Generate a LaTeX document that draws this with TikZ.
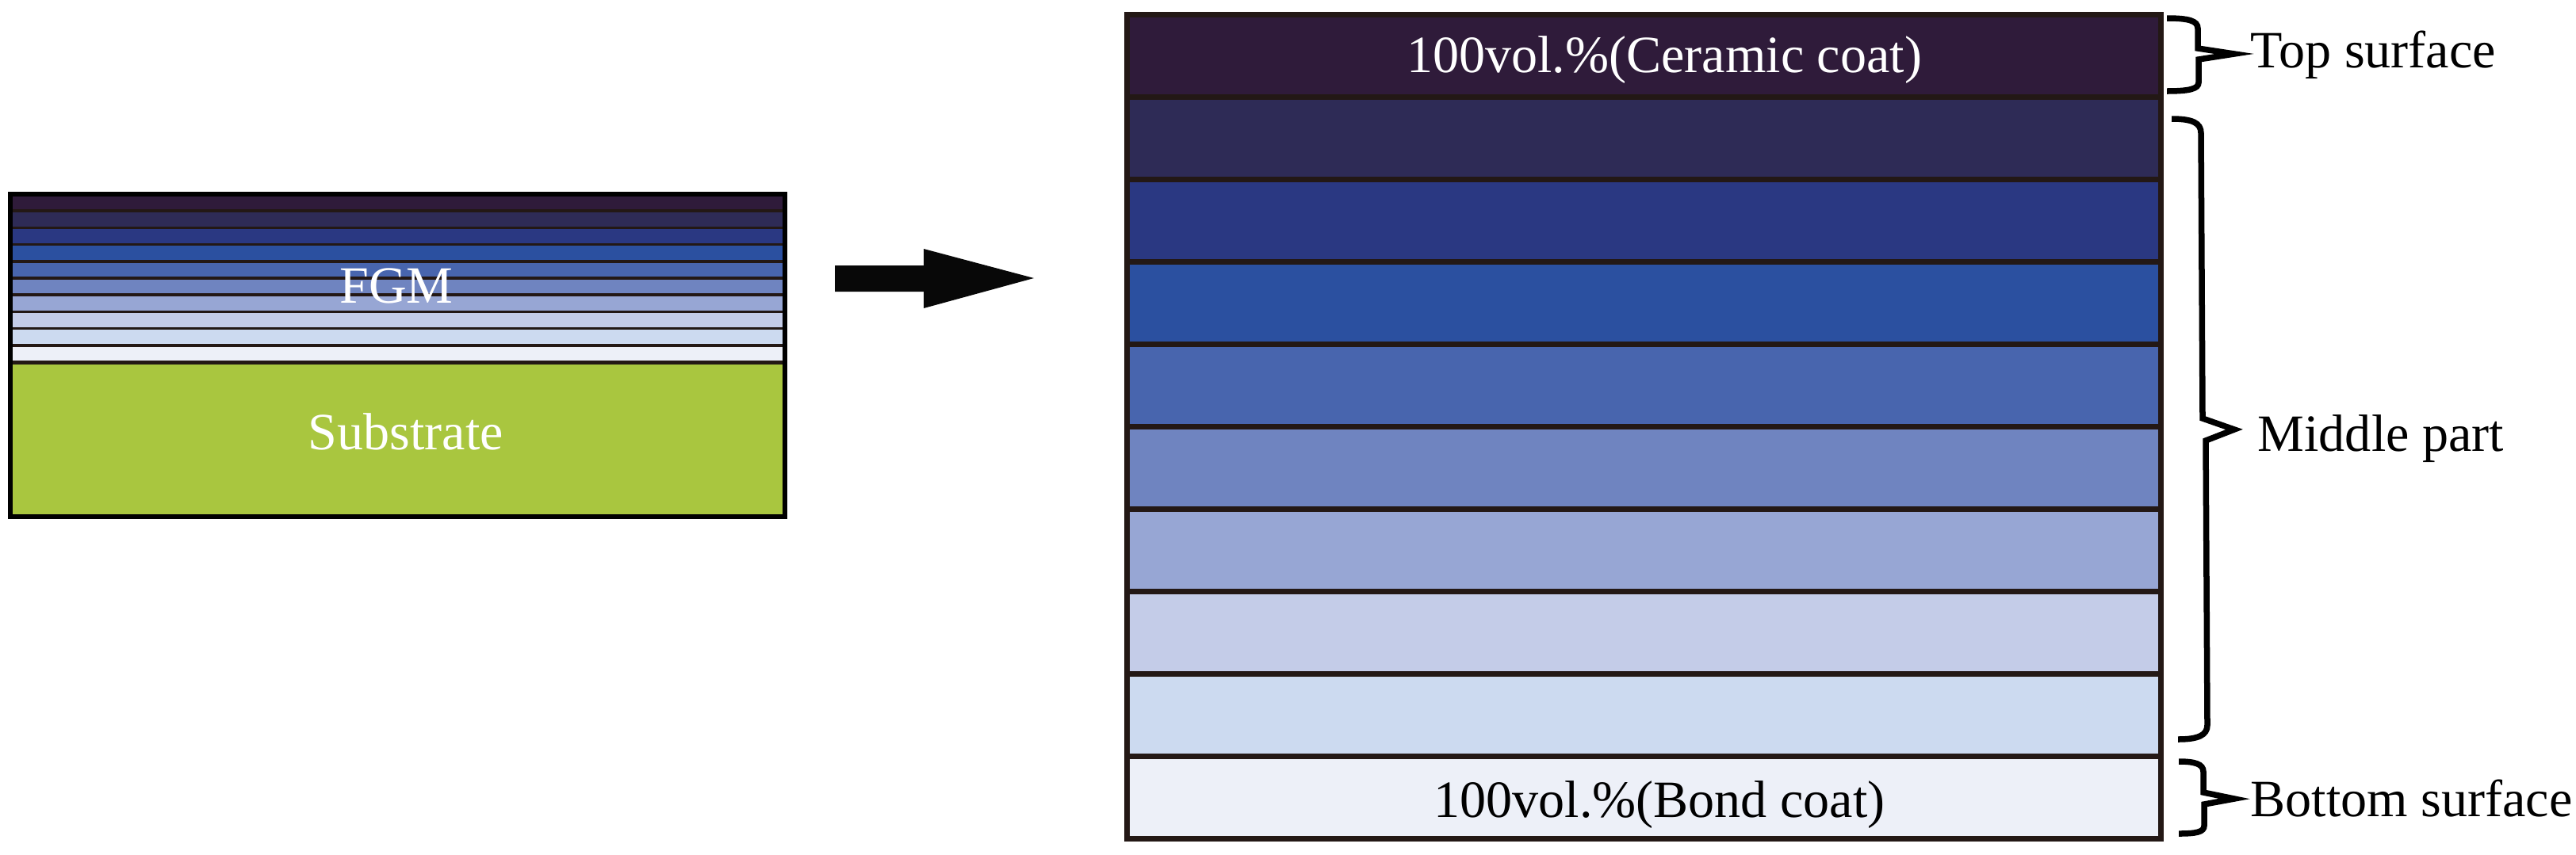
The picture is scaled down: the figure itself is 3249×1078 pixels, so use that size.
\documentclass[tikz,border=0pt]{standalone}
\usepackage{fontspec}
\setmainfont{Liberation Serif}
\definecolor{cA}{HTML}{2F1B3A}
\definecolor{cB}{HTML}{2E2B56}
\definecolor{cC}{HTML}{2A3882}
\definecolor{cD}{HTML}{2B50A0}
\definecolor{cE}{HTML}{4865AE}
\definecolor{cF}{HTML}{6F84C0}
\definecolor{cG}{HTML}{97A6D4}
\definecolor{cH}{HTML}{C4CCE8}
\definecolor{cI}{HTML}{CCDAF0}
\definecolor{cJ}{HTML}{EDF0F8}
\definecolor{subgreen}{HTML}{A9C63F}
\definecolor{edge}{HTML}{231815}
\begin{document}
\begin{tikzpicture}[x=0.01cm,y=-0.01cm,
  lbl/.style={font=\fontsize{18.8}{22}\selectfont, inner sep=0pt, anchor=base},
  sidelbl/.style={lbl, anchor=base west},
  bracepath/.style={line width=0.075cm, line join=miter, black},
  sepline/.style={draw=edge}]
\useasboundingbox (0,0) rectangle (3249,1078);
% ---------- left: FGM on substrate ----------
\foreach \c [count=\i from 0] in {cA,cB,cC,cD,cE,cF,cG,cH,cI,cJ}
  \fill[\c] (13,{245+\i*21.2}) rectangle (990,{245+(\i+1)*21.2});
\foreach \i in {1,...,9}
  \draw[sepline, line width=0.035cm] (13,{245+\i*21.2}) -- (990,{245+\i*21.2});
\fill[subgreen] (13,457) rectangle (990,652);
\draw[sepline, line width=0.05cm] (13,457) -- (990,457);
\draw[draw=black, line width=0.065cm] (13,245) rectangle (990,652);
\node[lbl, text=white] (fgm) at (500,382) {FGM};
\node[lbl, text=white] (sub) at (512,567) {Substrate};
% ---------- arrow ----------
\fill[black!97] (1053,335) -- (1165,335) -- (1165,314) -- (1304,351)
  -- (1165,389) -- (1165,368) -- (1053,368) -- cycle;
% ---------- right: enlarged layers ----------
\foreach \c [count=\i from 0] in {cA,cB,cC,cD,cE,cF,cG,cH,cI,cJ}
  \fill[\c] (1421,{18+\i*104}) rectangle (2725,{18+(\i+1)*104});
\foreach \i in {1,...,9}
  \draw[sepline, line width=0.07cm] (1421,{18+\i*104}) -- (2725,{18+\i*104});
\draw[sepline, line width=0.07cm] (1421,18) rectangle (2725,1058);
\node[lbl, text=white] (ceramic) at (2099,91) {100vol.\%(Ceramic coat)};
\node[lbl, text=black] (bond) at (2093,1031) {100vol.\%(Bond coat)};
% ---------- braces ----------
\draw[bracepath] (2733,23) .. controls (2760,23) and (2772,26) .. (2772,36)
  -- (2772,61) -- (2818,68) -- (2773,75) -- (2773,104)
  .. controls (2773,112) and (2762,115) .. (2733,115);
\draw[bracepath] (2739,150) .. controls (2765,150) and (2776,155) .. (2776,168)
  -- (2778,528) -- (2818,542) -- (2782,556) -- (2784,915)
  .. controls (2784,928) and (2772,933) .. (2747,933);
\draw[bracepath] (2748,961) .. controls (2768,961) and (2779,964) .. (2779,974)
  -- (2779,1000) -- (2818,1008) -- (2780,1015) -- (2780,1042)
  .. controls (2780,1050) and (2770,1052) .. (2748,1052);
\node[sidelbl] (top) at (2838,85) {Top surface};
\node[sidelbl] (mid) at (2847,569) {Middle part};
\node[sidelbl] (bot) at (2838,1030) {Bottom surface};
\end{tikzpicture}
\end{document}
